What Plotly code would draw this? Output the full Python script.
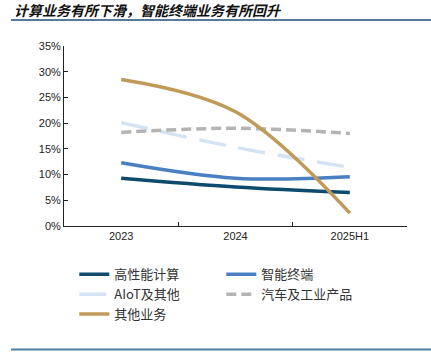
import plotly.graph_objects as go

categories = ["2023", "2024", "2025H1"]
hpc = [9.3, 7.6, 6.5]
terminal = [12.3, 9.3, 9.6]
aiot = [20.1, 15.3, 11.4]
auto = [18.2, 19.0, 18.0]
other = [28.5, 22.2, 2.5]

series = [
    ("高性能计算", hpc, "#0d4a6e", "solid"),
    ("智能终端", terminal, "#4a80c2", "solid"),
    ("AIoT及其他", aiot, "#d3e3f3", "27px,13px"),
    ("汽车及工业产品", auto, "#b4b4b4", "10px,5px"),
    ("其他业务", other, "#bf9a58", "solid"),
]

fig = go.Figure()
for name, vals, color, dash in series:
    fig.add_trace(go.Scatter(
        x=categories, y=vals, name=name, mode="lines",
        line=dict(color=color, width=3.5, dash=dash, shape="spline", smoothing=1.0),
    ))

fig.update_layout(
    width=431, height=352,
    margin=dict(l=64, r=24, t=46, b=126, autoexpand=False),
    paper_bgcolor="white", plot_bgcolor="white",
    font=dict(family="Liberation Sans, Arial", size=11, color="#222"),
    showlegend=True,
    legend=dict(
        orientation="h", x=0.03, y=-0.185, xanchor="left", yanchor="top",
        entrywidth=102, entrywidthmode="pixels",
        font=dict(family="Noto Sans CJK SC", size=13, color="#333"),
        traceorder="normal", bgcolor="rgba(0,0,0,0)",
    ),
)
fig.update_xaxes(
    type="category", range=[-0.5, 2.5], showline=True, linecolor="#222", linewidth=1,
    ticks="inside", ticklen=4, tickcolor="#222", tickson="boundaries",
    showgrid=False, zeroline=False, tickfont=dict(size=11),
)
fig.update_yaxes(
    range=[0, 35], dtick=5, ticksuffix="%", showline=True, linecolor="#222", linewidth=1,
    ticks="inside", ticklen=4, tickcolor="#222", showgrid=False, zeroline=False,
    tickfont=dict(size=11),
)

fig.add_annotation(
    text="计算业务有所下滑，智能终端业务有所回升", xref="paper", yref="paper",
    x=(12 - 64) / 343, y=(226 - 10) / 180, xanchor="left", yanchor="middle",
    showarrow=False, font=dict(family="Noto Sans CJK SC", size=14, color="#111", style="italic", weight="bold"),
)
fig.add_shape(type="line", xref="paper", yref="paper",
              x0=(11 - 64) / 343, x1=(431 - 64) / 343, y0=(226 - 20) / 180, y1=(226 - 20) / 180,
              line=dict(color="#1f4e79", width=1.5))
fig.add_shape(type="line", xref="paper", yref="paper",
              x0=(11 - 64) / 343, x1=(431 - 64) / 343, y0=(226 - 349.5) / 180, y1=(226 - 349.5) / 180,
              line=dict(color="#4f7ea0", width=2))

fig.write_html("out.html")
